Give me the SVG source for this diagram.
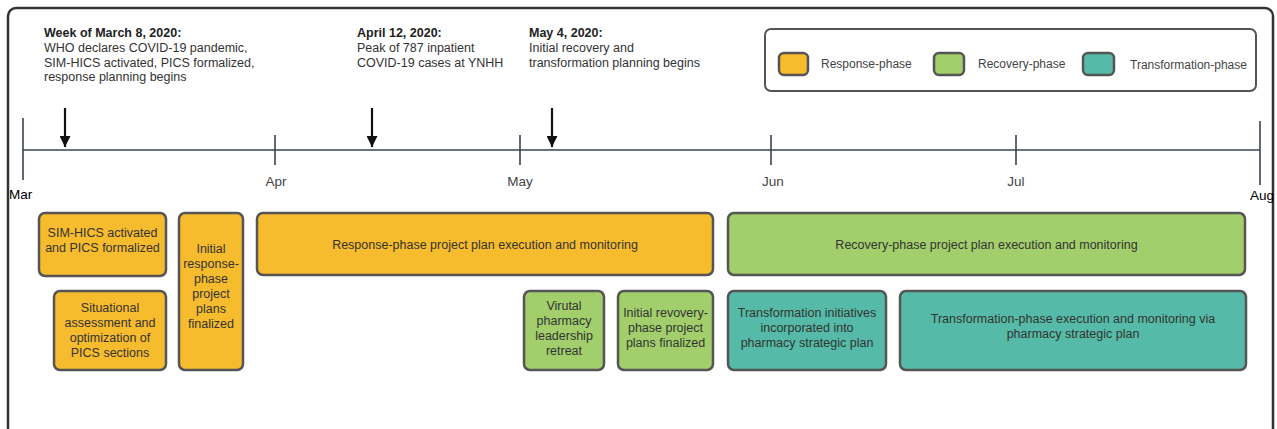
<svg xmlns="http://www.w3.org/2000/svg" width="1277" height="429" viewBox="0 0 1277 429">
<defs>
<style>
text{font-family:"Liberation Sans",Arial,sans-serif;}
.frame{fill:#fff;stroke:#333;stroke-width:2.5;}
.axis{stroke:#3a4350;stroke-width:1.6;fill:none;}
.arrow{stroke:#111;stroke-width:2.2;fill:none;}
.month{font-size:13.5px;fill:#444;text-anchor:middle;}
.monthB{font-size:13.5px;fill:#000;}
.ann{font-size:12.5px;fill:#333;}
.annB{font-size:12.5px;fill:#222;font-weight:bold;}
.box{stroke:#555;stroke-width:2.5;}
.resp{fill:#F7BB2E;}
.reco{fill:#A2CE6B;}
.tran{fill:#55BAA7;}
.bt{font-size:12.5px;fill:#333;text-anchor:middle;}
.lt{font-size:12px;fill:#444;}
</style>
<marker id="ah" viewBox="0 0 10 10" refX="10" refY="5" markerWidth="5" markerHeight="5" orient="auto" markerUnits="strokeWidth">
<path d="M0,0 L10,5 L0,10 z" fill="#111"/>
</marker>
</defs>
<rect x="0" y="0" width="1277" height="429" fill="#fff"/>
<rect class="frame" x="8" y="8" width="1265" height="440" rx="8"/>

<g id="timeline">
<line class="axis" x1="23" y1="150" x2="1260" y2="150"/>
<line class="axis" x1="23" y1="118" x2="23" y2="180"/>
<line class="axis" x1="275" y1="135" x2="275" y2="165"/>
<line class="axis" x1="520" y1="135" x2="520" y2="165"/>
<line class="axis" x1="771" y1="135" x2="771" y2="165"/>
<line class="axis" x1="1016" y1="135" x2="1016" y2="165"/>
<line class="axis" x1="1260" y1="121" x2="1260" y2="185"/>
<text class="monthB" x="9" y="199">Mar</text>
<text class="month" x="276" y="186">Apr</text>
<text class="month" x="520" y="186">May</text>
<text class="month" x="773" y="186">Jun</text>
<text class="month" x="1016" y="186">Jul</text>
<text class="monthB" x="1250" y="200">Aug</text>
</g>

<g id="connectors">
<line class="arrow" x1="65" y1="108" x2="65" y2="147" marker-end="url(#ah)"/>
<line class="arrow" x1="372" y1="108" x2="372" y2="147" marker-end="url(#ah)"/>
<line class="arrow" x1="552" y1="108" x2="552" y2="147" marker-end="url(#ah)"/>
</g>

<g id="ann-march">
<text class="annB" x="44" y="37">Week of March 8, 2020:</text>
<text class="ann" x="44" y="52">WHO declares COVID-19 pandemic,</text>
<text class="ann" x="44" y="67">SIM-HICS activated, PICS formalized,</text>
<text class="ann" x="44" y="81">response planning begins</text>
</g>
<g id="ann-april">
<text class="annB" x="357" y="37">April 12, 2020:</text>
<text class="ann" x="357" y="52">Peak of 787 inpatient</text>
<text class="ann" x="357" y="67">COVID-19 cases at YNHH</text>
</g>
<g id="ann-may">
<text class="annB" x="529" y="37">May 4, 2020:</text>
<text class="ann" x="529" y="52">Initial recovery and</text>
<text class="ann" x="529" y="67">transformation planning begins</text>
</g>

<g id="legend">
<rect x="765" y="29" width="491" height="62" rx="6" fill="#fff" stroke="#555" stroke-width="2"/>
<rect class="box resp" x="779" y="53" width="29" height="22" rx="5"/>
<text class="lt" x="821" y="68">Response-phase</text>
<rect class="box reco" x="934" y="53" width="30" height="22" rx="5"/>
<text class="lt" x="978" y="68">Recovery-phase</text>
<rect class="box tran" x="1083" y="53" width="31" height="22" rx="5"/>
<text class="lt" x="1130" y="69">Transformation-phase</text>
</g>

<g id="n1">
<rect class="box resp" x="39" y="213" width="127" height="63" rx="6"/>
<text class="bt" x="102.5" y="237">SIM-HICS activated</text>
<text class="bt" x="102.5" y="252">and PICS formalized</text>
</g>
<g id="n2">
<rect class="box resp" x="54" y="291" width="112" height="79" rx="6"/>
<text class="bt" x="110" y="312">Situational</text>
<text class="bt" x="110" y="327">assessment and</text>
<text class="bt" x="110" y="342">optimization of</text>
<text class="bt" x="110" y="357">PICS sections</text>
</g>
<g id="n3">
<rect class="box resp" x="179" y="213" width="64" height="157" rx="6"/>
<text class="bt" x="211" y="253">Initial</text>
<text class="bt" x="211" y="268">response-</text>
<text class="bt" x="211" y="283">phase</text>
<text class="bt" x="211" y="298">project</text>
<text class="bt" x="211" y="313">plans</text>
<text class="bt" x="211" y="328">finalized</text>
</g>
<g id="n4">
<rect class="box resp" x="257" y="213" width="456" height="62" rx="6"/>
<text class="bt" x="485" y="249">Response-phase project plan execution and monitoring</text>
</g>
<g id="n5">
<rect class="box reco" x="728" y="213" width="517" height="62" rx="6"/>
<text class="bt" x="986.5" y="249">Recovery-phase project plan execution and monitoring</text>
</g>
<g id="n6">
<rect class="box reco" x="524" y="291" width="80" height="79" rx="6"/>
<text class="bt" x="564" y="310">Virutal</text>
<text class="bt" x="564" y="325">pharmacy</text>
<text class="bt" x="564" y="340">leadership</text>
<text class="bt" x="564" y="355">retreat</text>
</g>
<g id="n7">
<rect class="box reco" x="618" y="291" width="95" height="79" rx="6"/>
<text class="bt" x="665.5" y="317">Initial revovery-</text>
<text class="bt" x="665.5" y="332">phase project</text>
<text class="bt" x="665.5" y="347">plans finalized</text>
</g>
<g id="n8">
<rect class="box tran" x="728" y="291" width="158" height="79" rx="6"/>
<text class="bt" x="807" y="317">Transformation initiatives</text>
<text class="bt" x="807" y="332">incorporated into</text>
<text class="bt" x="807" y="347">pharmacy strategic plan</text>
</g>
<g id="n9">
<rect class="box tran" x="900" y="291" width="346" height="79" rx="6"/>
<text class="bt" x="1073" y="323">Transformation-phase execution and monitoring via</text>
<text class="bt" x="1073" y="338">pharmacy strategic plan</text>
</g>
</svg>
